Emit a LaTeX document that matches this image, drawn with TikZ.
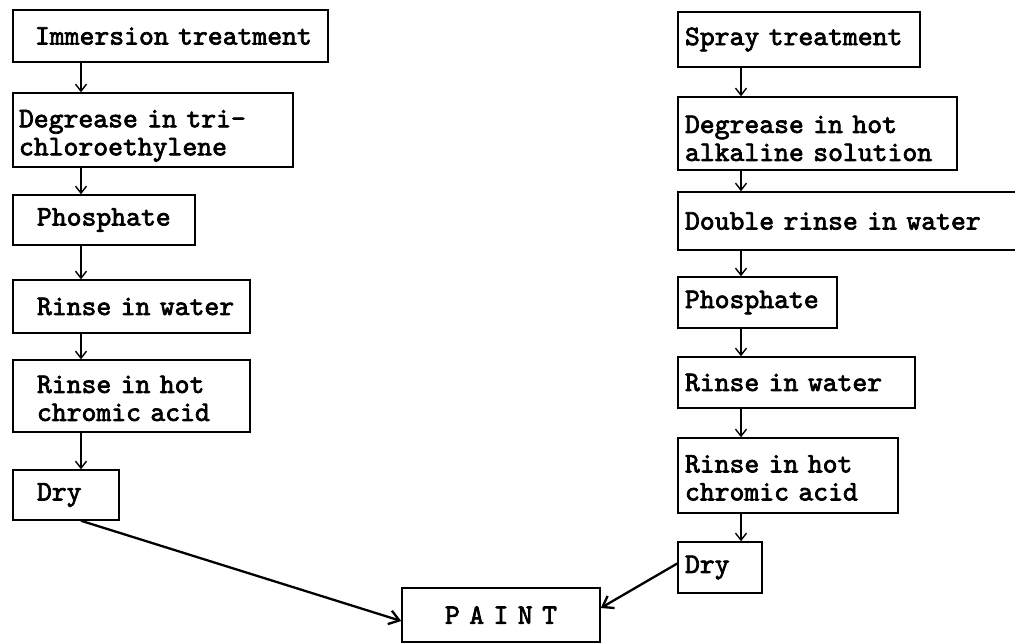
\documentclass[tikz,border=0pt]{standalone}
\usepackage{fontspec}
\newfontfamily\twfont{lmmono10-regular.otf}[FakeBold=2.5]
\usetikzlibrary{arrows.meta}
\tikzset{
  box/.style={draw, line width=1.5pt, rectangle, inner ysep=0pt, align=left,
    font=\twfont\fontsize{28.3}{28}\selectfont},
  arr/.style={line width=1.4pt, -{Straight Barb[length=7pt,width=11pt,line width=1.4pt]}},
  bigarr/.style={line width=2.3pt, -{Straight Barb[length=10pt,width=14pt,line width=2.3pt]}}
}
\begin{document}
\begin{tikzpicture}[x=1pt,y=-1pt]
\useasboundingbox (0,0) rectangle (1015,643);
\coordinate (xl) at (81,0);
\coordinate (xr) at (741,0);
% left column
\node[box, minimum width=315pt, minimum height=52pt, inner xsep=22pt, text width=271pt] (L1) at (170.5,36) {\mbox{Immersion treatment}};
\node[box, minimum width=280pt, minimum height=74pt, inner xsep=6pt, text width=268pt] (L2) at (153,130) {\mbox{\rule{0pt}{29pt}Degrease in tri-}\\\mbox{chloroethylene}};
\node[box, minimum width=182pt, minimum height=50pt, inner xsep=24pt, text width=134pt] (L3) at (104,220) {\mbox{Phosphate}};
\node[box, minimum width=237pt, minimum height=53pt, inner xsep=24pt, text width=189pt] (L4) at (131.5,306.5) {\mbox{Rinse in water}};
\node[box, minimum width=237pt, minimum height=72pt, inner xsep=24pt, text width=189pt] (L5) at (131.5,396) {\mbox{\rule{0pt}{22pt}Rinse in hot}\\\mbox{chromic acid}};
\node[box, minimum width=106pt, minimum height=50pt, inner xsep=24pt, text width=58pt] (L6) at (66,495) {\mbox{Dry}};
% right column
\node[box, minimum width=242pt, minimum height=55pt, inner xsep=7pt, text width=228pt] (R1) at (799,39.5) {\mbox{Spray treatment}};
\node[box, minimum width=279pt, minimum height=73pt, inner xsep=7pt, text width=265pt] (R2) at (817.5,133.5) {\mbox{\rule{0pt}{27pt}Degrease in hot}\\\mbox{alkaline solution}};
\node[box, minimum width=352pt, minimum height=58pt, inner xsep=7pt, text width=338pt] (R3) at (854,221) {\mbox{Double rinse in water}};
\node[box, minimum width=159pt, minimum height=51pt, inner xsep=7pt, text width=145pt] (R4) at (757.5,302.5) {\mbox{Phosphate}};
\node[box, minimum width=237pt, minimum height=51pt, inner xsep=7pt, text width=223pt] (R5) at (796.5,382.5) {\mbox{Rinse in water}};
\node[box, minimum width=220pt, minimum height=75pt, inner xsep=7pt, text width=206pt] (R6) at (788,475.5) {\mbox{\rule{0pt}{22pt}Rinse in hot}\\\mbox{chromic acid}};
\node[box, minimum width=84pt, minimum height=51pt, inner xsep=7pt, text width=70pt] (R7) at (720,567.5) {\mbox{Dry}};
% paint
\node[box, align=center, minimum width=198pt, minimum height=54pt, inner xsep=9pt, text width=180pt] (P) at (501,615) {P A I N T};
% arrows
\draw[arr] (L1.south -| xl) -- (L2.north -| xl);
\draw[arr] (L2.south -| xl) -- (L3.north -| xl);
\draw[arr] (L3.south -| xl) -- (L4.north -| xl);
\draw[arr] (L4.south -| xl) -- (L5.north -| xl);
\draw[arr] (L5.south -| xl) -- (L6.north -| xl);
\draw[arr] (R1.south -| xr) -- (R2.north -| xr);
\draw[arr] (R2.south -| xr) -- (R3.north -| xr);
\draw[arr] (R3.south -| xr) -- (R4.north -| xr);
\draw[arr] (R4.south -| xr) -- (R5.north -| xr);
\draw[arr] (R5.south -| xr) -- (R6.north -| xr);
\draw[arr] (R6.south -| xr) -- (R7.north -| xr);
\draw[bigarr] (L6.south -| xl) -- ([yshift=-6pt]P.west);
\draw[bigarr] ([yshift=4pt]R7.west) -- ([yshift=7pt]P.east);
\end{tikzpicture}
\end{document}
